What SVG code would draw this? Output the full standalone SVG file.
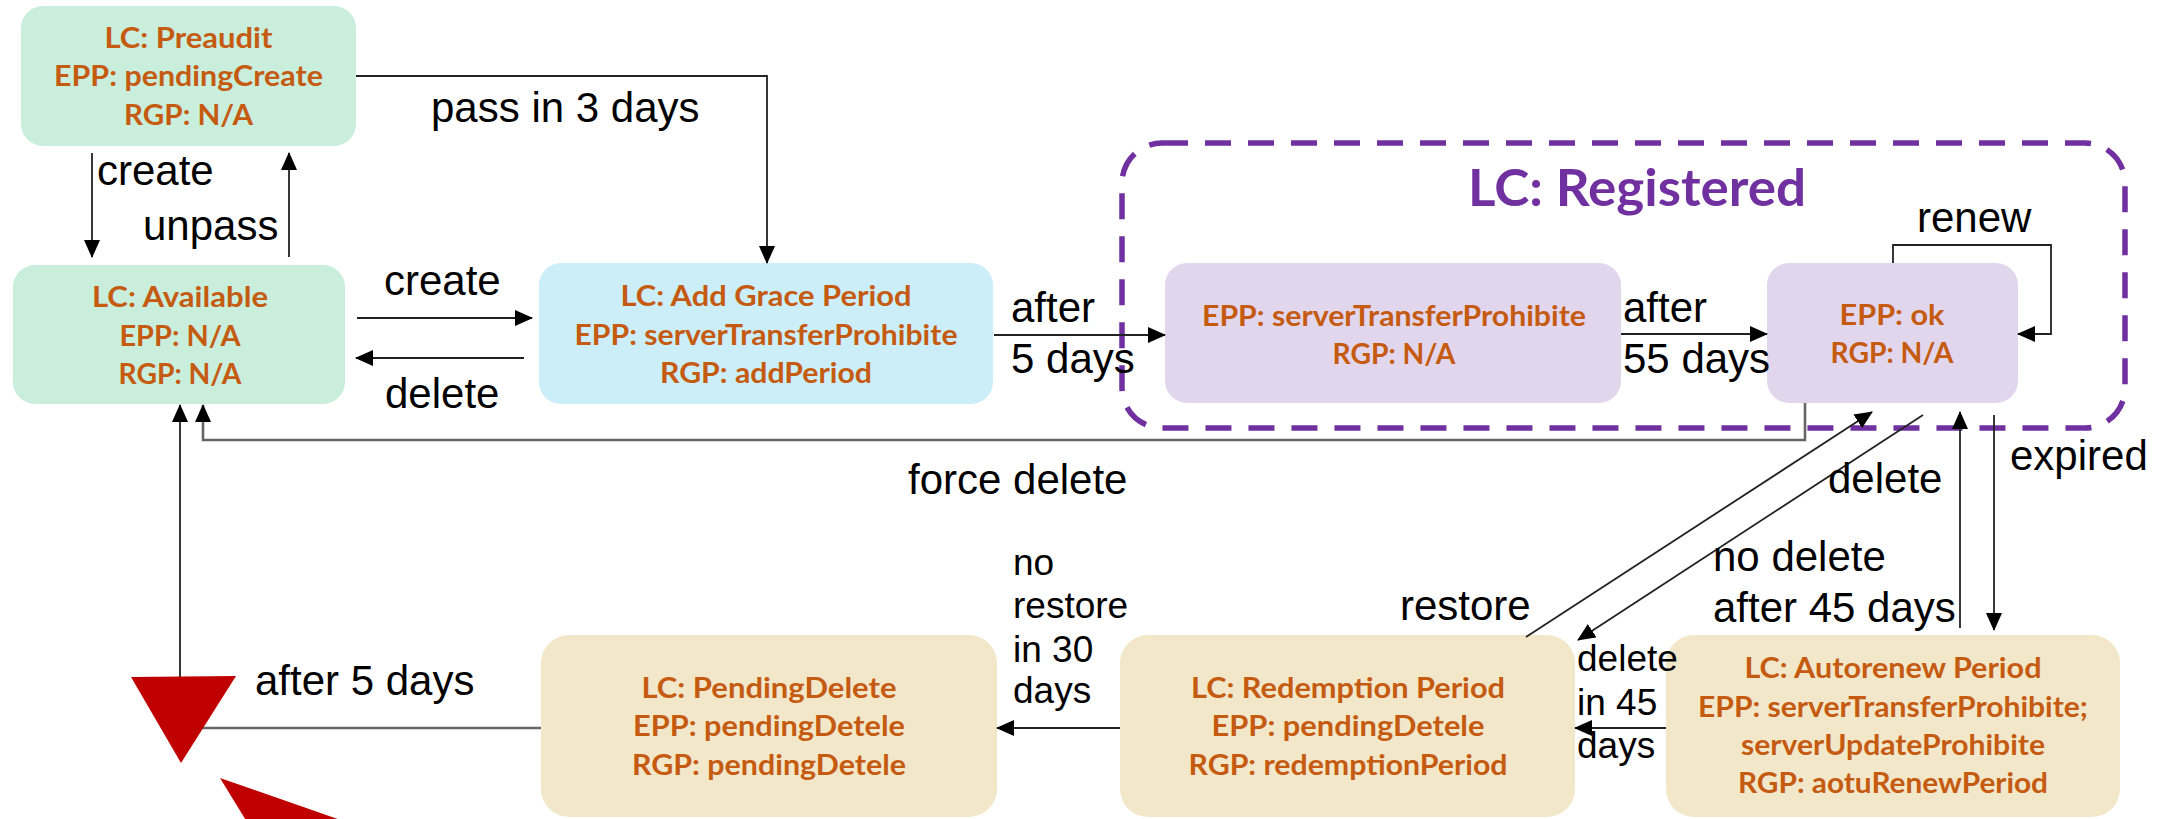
<svg xmlns="http://www.w3.org/2000/svg" width="2169" height="819" viewBox="0 0 2169 819">
  <style>
    .green { fill: #C9EEDB; }
    .blue { fill: #CCEEF9; }
    .lav { fill: #E2D6EC; }
    .beige { fill: #F2E7C9; }
    .nt { font-family: Lato, "Noto Sans", "DejaVu Sans", sans-serif; font-weight: 700; font-size: 29px; fill: #C55A11; text-anchor: middle; }
    .lbl { font-family: "Liberation Sans", Arial, sans-serif; font-size: 42px; fill: #000; }
    .sm { font-size: 37px; }
    .wire { fill: none; stroke: #222; stroke-width: 1.8; }
    .gray { stroke: #666; stroke-width: 2.6; }
    .group { fill: none; stroke: #7030A0; stroke-width: 5.5; stroke-dasharray: 26 17; }
    .title { font-family: Lato, "Noto Sans", sans-serif; font-weight: 700; font-size: 52px; fill: #7030A0; text-anchor: middle; }
  </style>
  <defs>
    <marker id="arrow" markerUnits="userSpaceOnUse" markerWidth="18" markerHeight="16" refX="17" refY="8" orient="auto">
      <path d="M0,0 L18,8 L0,16 Z" fill="#000"/>
    </marker>
  </defs>
  <rect width="2169" height="819" fill="#fff"/>

  <!-- registered group frame -->
  <g id="registered">
    <rect class="group" x="1122" y="143" width="1003" height="285" rx="40"/>
    <text class="title" x="1637" y="206" textLength="338" lengthAdjust="spacingAndGlyphs">LC: Registered</text>
  </g>

  <!-- states -->
  <g id="preaudit">
    <rect class="green" x="21" y="6" width="335" height="140" rx="22"/>
    <text class="nt" x="188.5" y="48" textLength="168" lengthAdjust="spacingAndGlyphs">LC: Preaudit</text>
    <text class="nt" x="188.5" y="86" textLength="269" lengthAdjust="spacingAndGlyphs">EPP: pendingCreate</text>
    <text class="nt" x="188.5" y="125" textLength="129" lengthAdjust="spacingAndGlyphs">RGP: N/A</text>
  </g>
  <g id="available">
    <rect class="green" x="13" y="265" width="332" height="139" rx="22"/>
    <text class="nt" x="180" y="307" textLength="176" lengthAdjust="spacingAndGlyphs">LC: Available</text>
    <text class="nt" x="180" y="346" textLength="121" lengthAdjust="spacingAndGlyphs">EPP: N/A</text>
    <text class="nt" x="180" y="384" textLength="123" lengthAdjust="spacingAndGlyphs">RGP: N/A</text>
  </g>
  <g id="add-grace">
    <rect class="blue" x="539" y="263" width="454" height="141" rx="22"/>
    <text class="nt" x="766" y="306" textLength="291" lengthAdjust="spacingAndGlyphs">LC: Add Grace Period</text>
    <text class="nt" x="766" y="345" textLength="383" lengthAdjust="spacingAndGlyphs">EPP: serverTransferProhibite</text>
    <text class="nt" x="766" y="383" textLength="212" lengthAdjust="spacingAndGlyphs">RGP: addPeriod</text>
  </g>
  <g id="reg-transfer">
    <rect class="lav" x="1165" y="263" width="456" height="140" rx="22"/>
    <text class="nt" x="1394" y="326" textLength="384" lengthAdjust="spacingAndGlyphs">EPP: serverTransferProhibite</text>
    <text class="nt" x="1394" y="364" textLength="123" lengthAdjust="spacingAndGlyphs">RGP: N/A</text>
  </g>
  <g id="reg-ok">
    <rect class="lav" x="1767" y="263" width="251" height="140" rx="22"/>
    <text class="nt" x="1892" y="325" textLength="105" lengthAdjust="spacingAndGlyphs">EPP: ok</text>
    <text class="nt" x="1892" y="363" textLength="123" lengthAdjust="spacingAndGlyphs">RGP: N/A</text>
  </g>
  <g id="pending-delete">
    <rect class="beige" x="541" y="635" width="456" height="182" rx="28"/>
    <text class="nt" x="769" y="698" textLength="255" lengthAdjust="spacingAndGlyphs">LC: PendingDelete</text>
    <text class="nt" x="769" y="736" textLength="272" lengthAdjust="spacingAndGlyphs">EPP: pendingDetele</text>
    <text class="nt" x="769" y="775" textLength="274" lengthAdjust="spacingAndGlyphs">RGP: pendingDetele</text>
  </g>
  <g id="redemption">
    <rect class="beige" x="1120" y="635" width="455" height="182" rx="28"/>
    <text class="nt" x="1348" y="698" textLength="314" lengthAdjust="spacingAndGlyphs">LC: Redemption Period</text>
    <text class="nt" x="1348" y="736" textLength="273" lengthAdjust="spacingAndGlyphs">EPP: pendingDetele</text>
    <text class="nt" x="1348" y="775" textLength="319" lengthAdjust="spacingAndGlyphs">RGP: redemptionPeriod</text>
  </g>
  <g id="autorenew">
    <rect class="beige" x="1666" y="635" width="454" height="182" rx="28"/>
    <text class="nt" x="1893" y="678" textLength="297" lengthAdjust="spacingAndGlyphs">LC: Autorenew Period</text>
    <text class="nt" x="1893" y="717" textLength="390" lengthAdjust="spacingAndGlyphs">EPP: serverTransferProhibite;</text>
    <text class="nt" x="1893" y="755" textLength="304" lengthAdjust="spacingAndGlyphs">serverUpdateProhibite</text>
    <text class="nt" x="1893" y="793" textLength="310" lengthAdjust="spacingAndGlyphs">RGP: aotuRenewPeriod</text>
  </g>

  <!-- transitions -->
  <g id="connectors">
    <path class="wire" d="M356,76 H767 V263" marker-end="url(#arrow)"/>
    <path class="wire" d="M92,153 V257" marker-end="url(#arrow)"/>
    <path class="wire" d="M289,257 V153" marker-end="url(#arrow)"/>
    <path class="wire" d="M357,318 H532" marker-end="url(#arrow)"/>
    <path class="wire" d="M524,358 H356" marker-end="url(#arrow)"/>
    <path class="wire" d="M994,335 H1165" marker-end="url(#arrow)"/>
    <path class="wire" d="M1621,334 H1767" marker-end="url(#arrow)"/>
    <path class="wire" d="M1893,263 V245 H2051 V334 H2018" marker-end="url(#arrow)"/>
    <path class="wire gray" d="M1805,403 V440 H203 V405" marker-end="url(#arrow)"/>
    <path class="wire" d="M1994,415 V630" marker-end="url(#arrow)"/>
    <path class="wire" d="M1960,628 V412" marker-end="url(#arrow)"/>
    <path class="wire" d="M1526,637 L1872,412" marker-end="url(#arrow)"/>
    <path class="wire" d="M1923,415 L1578,640" marker-end="url(#arrow)"/>
    <path class="wire" d="M1666,728 H1575" marker-end="url(#arrow)"/>
    <path class="wire" d="M1120,728 H997" marker-end="url(#arrow)"/>
    <path class="wire gray" d="M541,728 H180"/>
    <path class="wire" d="M180,728 V405" marker-end="url(#arrow)"/>
    <polygon points="131,677 236,676 181,763" fill="#C00000"/>
    <polygon points="220,778 258,840 398,840" fill="#C00000"/>
  </g>

  <!-- transition labels -->
  <g id="labels">
    <text class="lbl" x="431" y="122">pass in 3 days</text>
    <text class="lbl" x="97" y="185">create</text>
    <text class="lbl" x="143" y="240">unpass</text>
    <text class="lbl" x="384" y="295">create</text>
    <text class="lbl" x="385" y="408">delete</text>
    <text class="lbl" x="1011" y="322">after</text>
    <text class="lbl" x="1011" y="373">5 days</text>
    <text class="lbl" x="1623" y="322">after</text>
    <text class="lbl" x="1623" y="373">55 days</text>
    <text class="lbl" x="1917" y="232">renew</text>
    <text class="lbl" x="908" y="494">force delete</text>
    <text class="lbl" x="2010" y="470">expired</text>
    <text class="lbl" x="1828" y="493">delete</text>
    <text class="lbl" x="1713" y="571">no delete</text>
    <text class="lbl" x="1713" y="622">after 45 days</text>
    <text class="lbl" x="1400" y="620">restore</text>
    <text class="lbl sm" x="1013" y="575">no</text>
    <text class="lbl sm" x="1013" y="618">restore</text>
    <text class="lbl sm" x="1013" y="662">in 30</text>
    <text class="lbl sm" x="1013" y="703">days</text>
    <text class="lbl sm" x="1577" y="671">delete</text>
    <text class="lbl sm" x="1577" y="715">in 45</text>
    <text class="lbl sm" x="1577" y="758">days</text>
    <text class="lbl" x="255" y="695">after 5 days</text>
  </g>
</svg>
